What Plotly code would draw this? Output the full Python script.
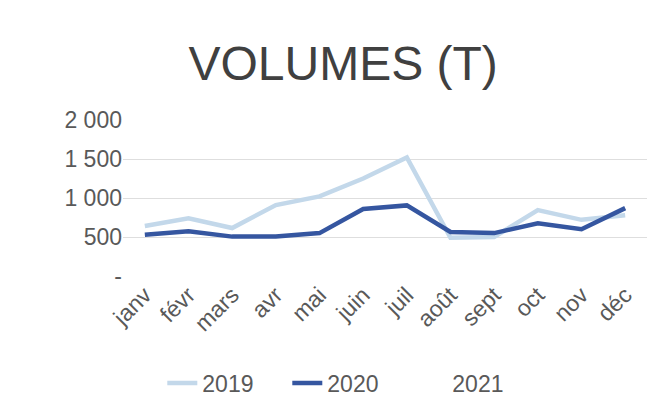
import plotly.graph_objects as go

months = ["janv", "févr", "mars", "avr", "mai", "juin", "juil", "août", "sept", "oct", "nov", "déc"]
v2019 = [640, 740, 615, 910, 1020, 1250, 1520, 490, 500, 845, 720, 780]
v2020 = [530, 575, 505, 505, 550, 860, 905, 565, 550, 675, 600, 870]
v2021 = [None] * 12

y_ticks = [0, 500, 1000, 1500, 2000]
y_labels = ["-", "500", "1 000", "1 500", "2 000"]

txt = "#595959"
font = "Liberation Sans, Arial, sans-serif"

fig = go.Figure()
fig.add_trace(go.Scatter(x=months, y=v2019, name="2019", mode="lines",
                         line=dict(color="#C3D8EA", width=4.5)))
fig.add_trace(go.Scatter(x=months, y=v2020, name="2020", mode="lines",
                         line=dict(color="#3556A0", width=4.5)))
fig.add_trace(go.Scatter(x=months, y=v2021, name="2021", mode="lines",
                         line=dict(color="rgba(0,0,0,0)", width=4.5)))

fig.update_layout(
    width=661, height=416,
    paper_bgcolor="white", plot_bgcolor="white",
    margin=dict(l=115, r=22, t=112, b=148, autoexpand=False),
    font=dict(family=font, color=txt, size=23),
    title=dict(text="VOLUMES (T)", x=0.507, xanchor="center", y=1 - 55 / 416,
               yanchor="middle", yref="container",
               font=dict(size=48, color="#404040", family=font)),
    showlegend=True,
    legend=dict(orientation="h", x=0.075, xanchor="left", y=-0.686, yanchor="middle",
                font=dict(size=23, color=txt), entrywidth=80, itemwidth=30),
    xaxis=dict(type="category", range=[-0.5, 11.5], tickangle=-45, showgrid=False,
               showline=False, ticks="", tickfont=dict(size=23, color=txt)),
    yaxis=dict(range=[0, 2000], tickvals=y_ticks, ticktext=y_labels,
               showgrid=True, gridcolor="#DEDEDE", gridwidth=1, zeroline=False,
               showline=False, ticks="", tickfont=dict(size=23, color=txt)),
)

fig.write_html("out.html")
